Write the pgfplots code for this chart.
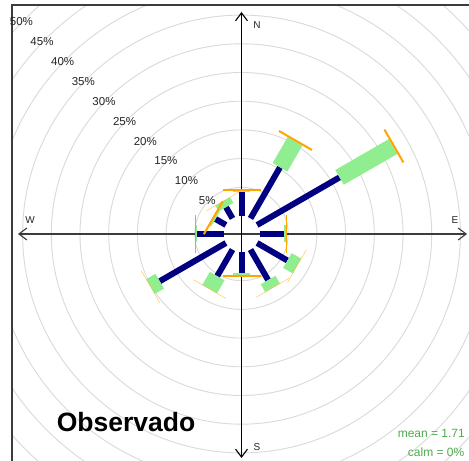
\documentclass[border=0pt]{standalone}
\usepackage{pgfplots}
\pgfplotsset{compat=1.18}
\usepackage{pgfplotstable}
\usepackage{fontspec}
\setmainfont{Liberation Sans}
\usetikzlibrary{arrows.meta}

\definecolor{paddlenavy}{RGB}{0,0,128}
\definecolor{paddlegreen}{RGB}{144,238,144}
\definecolor{paddleorange}{RGB}{255,165,0}
\definecolor{ringgray}{RGB}{218,218,218}
\definecolor{axisgray}{RGB}{60,60,60}
\definecolor{meangreen}{RGB}{80,170,80}

% cumulative percentages per direction (navy, then + green, then + orange)
\pgfplotstableread{
dir navy  green orange
0   4.23  4.41  4.65
30  10.28 15.50 15.85
60  16.59 27.35 27.70
90  4.27  4.62  4.66
120 6.10  8.00  8.04
150 6.13  7.67  7.71
180 3.71  4.00  4.30
210 5.33  7.93  7.97
240 13.31 15.16 15.20
270 4.67  4.97  5.01
300 2.09  2.35  2.70
330 2.26  3.40  3.44
}\rose

\begin{document}
\begin{tikzpicture}
\begin{axis}[
    width=469bp, height=461bp, scale only axis,
    xmin=-241.5, xmax=227.5, ymin=-227, ymax=234,
    hide axis, clip=true,
  ]
  \fill[white] (axis cs:-241.5,-227) rectangle (axis cs:227.5,234);
  % rings, 5% .. 50%  (r = 18 + 5.74*pct)
  \draw[ringgray, line width=0.9bp] (axis cs:0,0) circle[radius=46.7bp];
  \draw[ringgray, line width=0.9bp] (axis cs:0,0) circle[radius=75.4bp];
  \draw[ringgray, line width=0.9bp] (axis cs:0,0) circle[radius=104.1bp];
  \draw[ringgray, line width=0.9bp] (axis cs:0,0) circle[radius=132.8bp];
  \draw[ringgray, line width=0.9bp] (axis cs:0,0) circle[radius=161.5bp];
  \draw[ringgray, line width=0.9bp] (axis cs:0,0) circle[radius=190.2bp];
  \draw[ringgray, line width=0.9bp] (axis cs:0,0) circle[radius=218.9bp];
  \draw[ringgray, line width=0.9bp] (axis cs:0,0) circle[radius=247.6bp];
  \draw[ringgray, line width=0.9bp] (axis cs:0,0) circle[radius=276.3bp];
  \draw[ringgray, line width=0.9bp] (axis cs:0,0) circle[radius=305.0bp];
  % outside the panel
  \fill[white] (axis cs:-241.5,-227) rectangle (axis cs:-229.5,234);
  \fill[white] (axis cs:-241.5,229) rectangle (axis cs:227.5,234);
  \draw[axisgray, line width=1.3bp] (axis cs:-229.5,-227) -- (axis cs:-229.5,229) -- (axis cs:227.5,229);
  % compass axes
  \draw[axisgray, line width=1.1bp, {Straight Barb[length=8bp,width=12bp]}-{Straight Barb[length=8bp,width=12bp]}]
    (axis cs:-223.5,0) -- (axis cs:225.5,0);
  \draw[black, line width=1.1bp, {Straight Barb[length=8bp,width=12bp]}-{Straight Barb[length=8bp,width=12bp]}]
    (axis cs:0,-224) -- (axis cs:0,222);

  % paddles
  \addplot[paddlenavy, line width=6bp, no markers,
    quiver={u={5.74*\thisrow{navy}*sin(\thisrow{dir})},
            v={5.74*\thisrow{navy}*cos(\thisrow{dir})}}]
    table[x expr={18*sin(\thisrow{dir})}, y expr={18*cos(\thisrow{dir})}] {\rose};
  \addplot[paddlegreen, line width=17bp, no markers,
    quiver={u={5.74*(\thisrow{green}-\thisrow{navy})*sin(\thisrow{dir})},
            v={5.74*(\thisrow{green}-\thisrow{navy})*cos(\thisrow{dir})}}]
    table[x expr={(18+5.74*\thisrow{navy})*sin(\thisrow{dir})},
          y expr={(18+5.74*\thisrow{navy})*cos(\thisrow{dir})}] {\rose};
  \addplot[paddleorange, line width=38bp, no markers,
    quiver={u={5.74*(\thisrow{orange}-\thisrow{green})*sin(\thisrow{dir})},
            v={5.74*(\thisrow{orange}-\thisrow{green})*cos(\thisrow{dir})}}]
    table[x expr={(18+5.74*\thisrow{green})*sin(\thisrow{dir})},
          y expr={(18+5.74*\thisrow{green})*cos(\thisrow{dir})}] {\rose};

  % ring labels
  \begin{scope}[every node/.style={font={\fontsize{11.5bp}{13bp}\selectfont}, text=black!85, inner sep=0pt}]
  \node at (axis cs:-34.3,33.1) {5\%};
  \node at (axis cs:-55.0,53.1) {10\%};
  \node at (axis cs:-75.6,73.0) {15\%};
  \node at (axis cs:-96.2,92.9) {20\%};
  \node at (axis cs:-116.9,112.9) {25\%};
  \node at (axis cs:-137.5,132.8) {30\%};
  \node at (axis cs:-158.2,152.8) {35\%};
  \node at (axis cs:-178.8,172.7) {40\%};
  \node at (axis cs:-199.5,192.6) {45\%};
  \node at (axis cs:-220.1,212.6) {50\%};
  \end{scope}
  \begin{scope}[every node/.style={font={\fontsize{10bp}{12bp}\selectfont}, text=black!85, inner sep=0pt}]
  \node at (axis cs:15.5,209) {N};
  \node at (axis cs:213.5,14) {E};
  \node at (axis cs:-211.5,14) {W};
  \node at (axis cs:15.5,-213) {S};
  \end{scope}
  \node[font={\fontsize{26.5bp}{30bp}\selectfont\bfseries}, inner sep=0pt] at (axis cs:-115.5,-188) {Observado};
  \node[font={\fontsize{12bp}{14bp}\selectfont}, text=meangreen, inner sep=0pt, anchor=east] at (axis cs:223.5,-199) {mean = 1.71};
  \node[font={\fontsize{12bp}{14bp}\selectfont}, text=meangreen, inner sep=0pt, anchor=east] at (axis cs:223,-218) {calm = 0\%};
\end{axis}
\end{tikzpicture}
\end{document}
